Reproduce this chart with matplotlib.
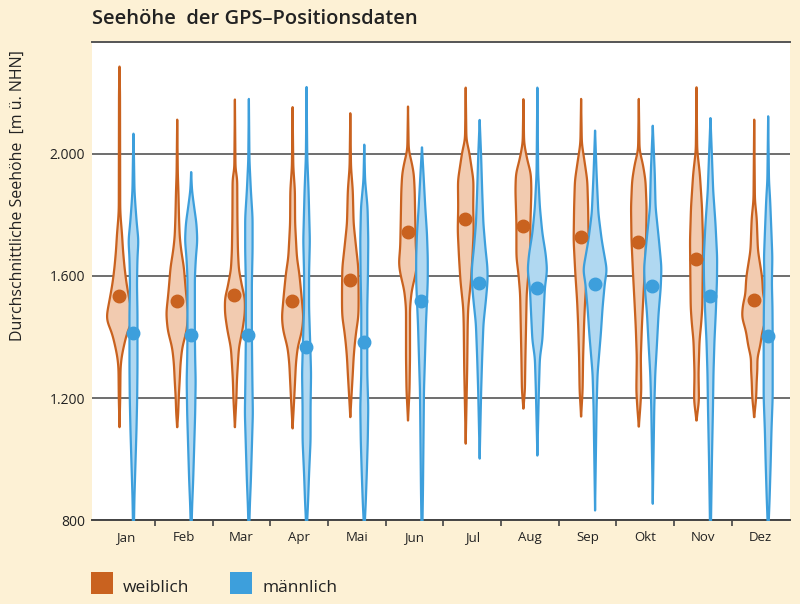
import numpy as np
import matplotlib.pyplot as plt
from matplotlib.patches import Rectangle

plt.rcParams['font.family'] = ['Open Sans', 'DejaVu Sans']

monate = ['Jan', 'Feb', 'Mar', 'Apr', 'Mai', 'Jun', 'Jul', 'Aug', 'Sep', 'Okt', 'Nov', 'Dez']

# Violin profiles: (Seehoehe in m, relative density)
weiblich_profil = [
    [(2290, 0), (2200, 0.5), (1820, 0.7), (1790, 1.2), (1740, 2.5), (1685, 3.5), (1630, 5), (1577, 7), (1531, 9.5),
     (1479, 12.5), (1460, 13), (1440, 11), (1423, 8.3), (1395, 6), (1367, 4), (1334, 2), (1300, 1), (1200, 0.7), (1106, 0)],
    [(2115, 0), (1938, 0.6), (1880, 1.2), (1793, 1.8), (1730, 2.5), (1685, 4), (1630, 6.7), (1577, 8), (1540, 9),
     (1479, 11), (1423, 9.5), (1367, 5), (1315, 3.3), (1259, 2.5), (1203, 1.5), (1150, 1), (1106, 0)],
    [(2182, 0), (1948, 0.6), (1925, 2.3), (1793, 2.5), (1685, 3), (1620, 4), (1597, 5.5), (1560, 7.5), (1531, 10),
     (1479, 10), (1423, 7.5), (1367, 4), (1315, 3), (1259, 2), (1200, 1.5), (1106, 0)],
    [(2155, 0), (1958, 0.7), (1882, 2.3), (1774, 2.5), (1662, 4.3), (1610, 6.7), (1544, 8.7), (1466, 10.8),
     (1423, 9.5), (1367, 5), (1315, 3.3), (1259, 2.5), (1193, 1.5), (1102, 0)],
    [(2137, 0), (1958, 0.7), (1882, 2.5), (1774, 3.3), (1695, 5.8), (1630, 8), (1554, 8.3), (1498, 8.3), (1466, 8),
     (1423, 6), (1380, 4.5), (1334, 3.3), (1282, 2.5), (1226, 1.5), (1139, 0)],
    [(2157, 0), (2013, 0.7), (1980, 3.3), (1938, 5.8), (1882, 6.7), (1774, 7.3), (1695, 7.8), (1643, 9.2),
     (1610, 7.8), (1554, 3.7), (1498, 2), (1334, 2), (1226, 1.5), (1128, 0)],
    [(2221, 0), (2046, 0.7), (2013, 3.3), (1958, 5.8), (1915, 7.8), (1827, 7.5), (1751, 8), (1662, 6.7),
     (1587, 5.3), (1498, 2.5), (1446, 2), (1300, 1.5), (1052, 0)],
    [(2182, 0), (2036, 0.7), (1980, 4), (1938, 7.5), (1882, 8), (1774, 7), (1662, 7), (1610, 5), (1544, 3.3),
     (1446, 2.7), (1334, 2), (1226, 1.5), (1167, 0)],
    [(2182, 0), (2036, 0.7), (1980, 3.3), (1915, 6.2), (1827, 7), (1718, 7.5), (1610, 5.8), (1521, 4), (1446, 3),
     (1334, 2), (1226, 1.5), (1141, 0)],
    [(2182, 0), (2013, 0.7), (1970, 4), (1915, 6.7), (1827, 7.8), (1718, 7.3), (1610, 5.8), (1498, 4), (1430, 3),
     (1334, 2), (1226, 2.5), (1171, 1.5), (1108, 0)],
    [(2221, 0), (2013, 0.7), (1938, 3.3), (1827, 5.5), (1718, 6.5), (1610, 6.2), (1498, 5.8), (1446, 4.7),
     (1390, 3), (1282, 2), (1193, 2.5), (1128, 0)],
    [(2115, 0), (1849, 0.7), (1793, 2.5), (1685, 3.7), (1597, 8), (1531, 9), (1521, 10.8), (1467, 12.5),
     (1423, 8.3), (1368, 5.8), (1334, 3), (1302, 3.3), (1259, 2.5), (1203, 2), (1139, 0)],
]

maennlich_profil = [
    [(2069, 0), (1990, 0.5), (1882, 1), (1830, 2), (1774, 3.3), (1718, 5), (1662, 4), (1577, 3.5), (1480, 4),
     (1413, 4), (1300, 4), (1200, 3.7), (1095, 3), (987, 2), (880, 1), (790, 0.5)],
    [(1942, 0), (1882, 0.8), (1827, 3), (1774, 5.3), (1718, 6.2), (1662, 4.7), (1597, 3.7), (1500, 3.7),
     (1407, 3.7), (1330, 4), (1259, 4.5), (1151, 4), (1040, 3), (931, 2), (850, 1), (790, 0.5)],
    [(2182, 0), (1980, 0.6), (1882, 2), (1793, 3.7), (1685, 3.7), (1577, 3), (1480, 3), (1407, 3), (1259, 3.5),
     (1151, 4), (1040, 3), (931, 2), (850, 1), (790, 0.5)],
    [(2221, 0), (1991, 0.7), (1882, 2), (1718, 3.3), (1610, 2.5), (1498, 2.5), (1413, 3.3), (1366, 3.8),
     (1282, 4.5), (1171, 4), (1062, 4), (953, 2.5), (860, 1.5), (790, 0.5)],
    [(2033, 0), (1915, 0.8), (1827, 3.3), (1718, 4), (1610, 3.7), (1498, 3), (1382, 3), (1282, 3), (1171, 4),
     (1062, 3.5), (953, 2.5), (860, 1.5), (790, 0.5)],
    [(2024, 0), (1938, 1.5), (1827, 3.3), (1741, 5), (1662, 5.8), (1587, 5.8), (1519, 5), (1446, 4), (1334, 3),
     (1226, 2), (1062, 1.5), (900, 1), (790, 0.5)],
    [(2114, 0), (1991, 1.5), (1882, 2.5), (1774, 3.7), (1695, 5.7), (1630, 7.8), (1587, 8), (1521, 6.2),
     (1446, 3.8), (1334, 2.5), (1226, 1.5), (1003, 0)],
    [(2221, 0), (1938, 0.8), (1827, 2.5), (1741, 5), (1675, 8.3), (1620, 9.8), (1564, 7.5), (1479, 6.3),
     (1390, 5), (1334, 2.5), (1226, 1.5), (1013, 0)],
    [(2079, 0), (1938, 1.5), (1807, 3.3), (1718, 6.7), (1662, 9.7), (1620, 12), (1587, 10), (1498, 7.5),
     (1413, 5.8), (1334, 3.8), (1282, 2.5), (1171, 1.5), (833, 0)],
    [(2095, 0), (1938, 2), (1827, 2.8), (1718, 6.2), (1630, 8.7), (1564, 8), (1479, 5.8), (1367, 4), (1282, 2.5),
     (1171, 1.5), (855, 0)],
    [(2120, 0), (1991, 1.5), (1882, 2.7), (1774, 5), (1662, 6.7), (1587, 6.5), (1479, 5.3), (1390, 4), (1282, 3),
     (1171, 2.5), (1007, 1.5), (790, 0.5)],
    [(2126, 0), (1915, 0.8), (1849, 2), (1741, 3.3), (1662, 4.2), (1577, 3.7), (1500, 4.3), (1404, 4.5),
     (1302, 4.5), (1203, 4.5), (1095, 3.3), (987, 2.5), (878, 1.5), (790, 0.5)],
]

weiblich_mittel = [1535, 1519, 1538, 1519, 1587, 1743, 1786, 1765, 1727, 1710, 1656, 1521]
maennlich_mittel = [1413, 1407, 1407, 1366, 1382, 1519, 1578, 1560, 1574, 1568, 1534, 1404]

bg = '#fdf1d5'
orange = '#c9621f'
orange_fill = '#f2cbb0'
blau = '#3d9fdc'
blau_fill = '#b0d8f1'

fig = plt.figure(figsize=(8, 6.04), dpi=100, facecolor=bg)
ax = fig.add_axes([0.115, 0.139, 0.8725, 0.7915])
ax.set_facecolor('white')

breite = 1 / 57.7  # density units -> category widths
versatz = 0.121
kern = np.exp(-0.5 * (np.arange(-12, 13) / 5.0) ** 2)
kern /= kern.sum()


def glatt(profil):
    h = np.array([p[0] for p in profil], dtype=float)[::-1]
    d = np.array([p[1] for p in profil], dtype=float)[::-1]
    hf = np.arange(h[0], h[-1] + 1, 3.0)
    df = np.interp(hf, h, d)
    pad = np.concatenate([np.full(12, df[0]), df, np.full(12, df[-1])])
    df = np.convolve(pad, kern, mode='same')[12:-12]
    return hf, df * breite


for i in range(len(monate)):
    for profil, dx, edge, fill in [(weiblich_profil[i], -versatz, orange, orange_fill),
                                   (maennlich_profil[i], versatz, blau, blau_fill)]:
        h, d = glatt(profil)
        ax.fill_betweenx(h, i + dx - d, i + dx + d, facecolor=fill, edgecolor=edge, lw=1.6, zorder=3)

x = np.arange(len(monate))
ax.plot(x - versatz, weiblich_mittel, 'o', color=orange, ms=9, zorder=5)
ax.plot(x + versatz, maennlich_mittel, 'o', color=blau, ms=9, zorder=5)

ax.set_xlim(-0.589, 11.508)
ax.set_ylim(800, 2367)
ax.set_yticks([800, 1200, 1600, 2000])
ax.set_yticklabels(['800', '1.200', '1.600', '2.000'], fontsize=10, color='#222222')
ax.tick_params(axis='y', length=0, pad=5)
ax.grid(axis='y', color='#555555', lw=1.2, zorder=1)

ax.set_xticks(x)
ax.set_xticklabels(monate, fontsize=9.5, color='#222222')
ax.set_xticks(x[:-1] + 0.5, minor=True)
ax.tick_params(axis='x', which='major', length=0, pad=8)
ax.tick_params(axis='x', which='minor', length=4, width=1.2, color='#444444', direction='out')

for s in ['left', 'right']:
    ax.spines[s].set_visible(False)
ax.spines['bottom'].set_color('#444444')
ax.spines['bottom'].set_linewidth(1.4)
ax.spines['top'].set_color('#555555')
ax.spines['top'].set_linewidth(1.4)

fig.text(0.115, 0.968, 'Seehöhe  der GPS–Positionsdaten', fontsize=14.5, fontweight='semibold',
         color='#222222', va='center', ha='left')
fig.text(0.022, 1 - 196 / 604, 'Durchschnittliche Seehöhe  [m ü. NHN]', rotation=90, fontsize=11.5,
         color='#222222', va='center', ha='center')

# legend
fig.patches.append(Rectangle((91 / 800, 1 - 594 / 604), 22 / 800, 22 / 604, transform=fig.transFigure,
                             facecolor=orange, edgecolor='none'))
fig.patches.append(Rectangle((230 / 800, 1 - 594 / 604), 22 / 800, 22 / 604, transform=fig.transFigure,
                             facecolor=blau, edgecolor='none'))
fig.text(123 / 800, 1 - 588 / 604, 'weiblich', fontsize=12.5, color='#222222', va='center')
fig.text(262 / 800, 1 - 588 / 604, 'männlich', fontsize=12.5, color='#222222', va='center')

fig.savefig('out.png', dpi=100, facecolor=bg)
